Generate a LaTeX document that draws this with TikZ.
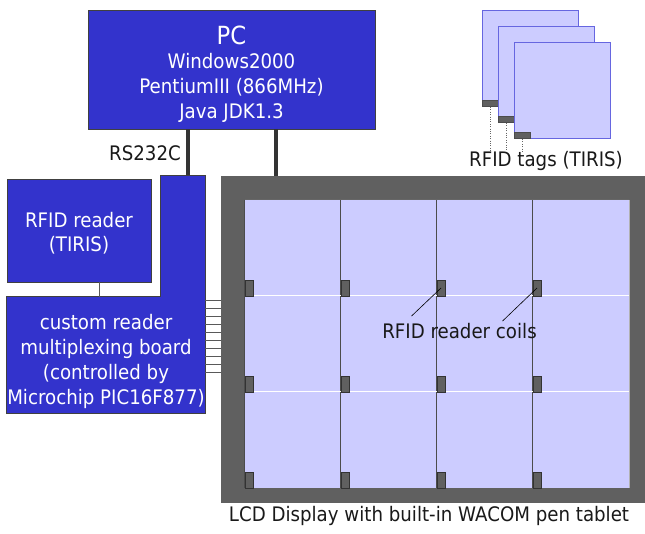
\documentclass[tikz,border=0pt]{standalone}
\usepackage{fontspec}
\setmainfont{DejaVu Sans}[FakeStretch=0.91]
\usetikzlibrary{positioning}

\definecolor{pcblue}{HTML}{3333CC}
\definecolor{lcdgray}{HTML}{606060}
\definecolor{celllav}{HTML}{CCCCFF}
\definecolor{tagedge}{HTML}{6666E0}
\definecolor{cablegray}{HTML}{333333}

\tikzset{
	bluebox/.style={fill=pcblue, draw=black!75, line width=0.8pt, text=white, align=center, inner sep=0pt, font=\fontsize{20}{24.7}\selectfont},
	bluefill/.style={fill=pcblue, text=white, align=center, inner sep=0pt, font=\fontsize{20}{24.7}\selectfont},
	caption/.style={text=black!90, inner sep=0pt, font=\fontsize{20}{24.7}\selectfont},
	cable/.style={draw=cablegray, line width=3.5pt},
	wire/.style={draw=black!65, line width=0.8pt},
	cell/.style={fill=celllav, minimum width=96pt, minimum height=96pt, inner sep=0pt},
	coil/.style={fill=lcdgray, draw=black!80, line width=0.6pt, minimum width=8pt, minimum height=16pt, inner sep=0pt},
	tag/.style={fill=celllav, draw=tagedge, line width=1pt, minimum width=96pt, minimum height=96pt, inner sep=0pt},
	tagbar/.style={fill=lcdgray, draw=black!70, line width=0.6pt, minimum width=16pt, minimum height=6pt, inner sep=0pt},
	leader/.style={draw=black, line width=0.6pt},
}

\begin{document}
\begin{tikzpicture}[x=1pt, y=-1pt]
	\useasboundingbox (0,0) rectangle (645,533);

	%% PC
	\node[bluebox, minimum width=287pt, minimum height=119pt, text height=101.6pt](pc) at (231.5,69.5){{\fontsize{25}{24.7}\selectfont PC}\\Windows2000\\PentiumIII (866MHz)\\Java JDK1.3};

	%% READER AND MULTIPLEXER
	\node[bluebox, minimum width=144pt, minimum height=103pt, text height=45.5pt](rfid_reader) at (79,230.5){RFID reader\\(TIRIS)};
	\node[bluefill, minimum width=198pt, minimum height=116pt, text height=102.3pt](mux_board) at (106,355){custom reader\\multiplexing board\\(controlled by\\Microchip PIC16F877)};
	\node[bluefill, minimum width=44pt, minimum height=121pt, anchor=south east](mux_neck) at (mux_board.north east){};
	\draw[draw=black!75, line width=0.8pt] (mux_board.south west) -- (mux_board.north west) -- (mux_neck.south west)
		-- (mux_neck.north west) -- (mux_neck.north east) -- (mux_board.south east) -- cycle;

	%% LCD DISPLAY
	\node[fill=lcdgray, minimum width=424pt, minimum height=327pt, inner sep=0pt](lcd) at (433,339.5){};
	\foreach \c in {0,...,3}{
		\foreach \r in {0,...,2}{
			\node[cell](cell_\c_\r) at ({293+96*\c},{248+96*\r}){};
		}
	}
	\foreach \c in {0,...,3}
		\draw[black!70, line width=0.8pt] (cell_\c_0.north west) -- (cell_\c_2.south west);
	\foreach \r in {1,2}
		\draw[white, line width=1pt] (cell_0_\r.north west) -- (cell_3_\r.north east);
	\draw[black!60, line width=0.8pt] (cell_0_0.north west) -- (cell_3_0.north east);
	\draw[gray!60, line width=0.8pt] (cell_3_0.north east) -- (cell_3_2.south east);
	\foreach \c in {0,...,3}{
		\foreach \r in {0,...,2}{
			\node[coil, anchor=south west](coil_\c_\r) at (cell_\c_\r.south west){};
		}
	}
	\node[caption, below=2.8pt of lcd, xshift=-4pt](lcd_label){LCD Display with built-in WACOM pen tablet};

	\node[caption](coil_label) at (459.5,331){RFID reader coils};
	\draw[leader] (coil_2_0.center) -- ([xshift=-48pt, yshift=7pt]coil_label.north);
	\draw[leader] (coil_3_0.center) -- ([xshift=43pt, yshift=2pt]coil_label.north);

	%% CONNECTIONS
	\coordinate (rs_port) at ([xshift=5pt]mux_neck.north);
	\coordinate (lcd_port) at ([xshift=55pt]lcd.north west);
	\draw[cable] (rs_port |- pc.south) -- (rs_port);
	\draw[cable] (lcd_port |- pc.south) -- (lcd_port);
	\node[caption, anchor=east](rs_label) at (181,153.5){RS232C};

	\coordinate (reader_port) at ([xshift=20pt]rfid_reader.south);
	\draw[wire] (reader_port) -- (reader_port |- mux_board.north);

	\foreach \k in {0,...,9}{
		\coordinate (mux_pin_\k) at ([yshift={-4pt-8pt*\k}]mux_board.north east);
		\draw[wire] (mux_pin_\k) -- (mux_pin_\k -| lcd.west);
	}

	%% RFID TAGS
	\foreach \t in {1,2,3}{
		\node[tag](tag_\t) at ({514+16*\t},{42.5+16*\t}){};
		\node[tagbar, anchor=south west](tag_bar_\t) at (tag_\t.south west){};
	}
	\node[caption](tags_label) at (546,161){RFID tags (TIRIS)};
	\foreach \t in {1,2,3}
		\draw[black!60, dotted] (tag_bar_\t.south) -- (tag_bar_\t.south |- tags_label.north);

\end{tikzpicture}
\end{document}
